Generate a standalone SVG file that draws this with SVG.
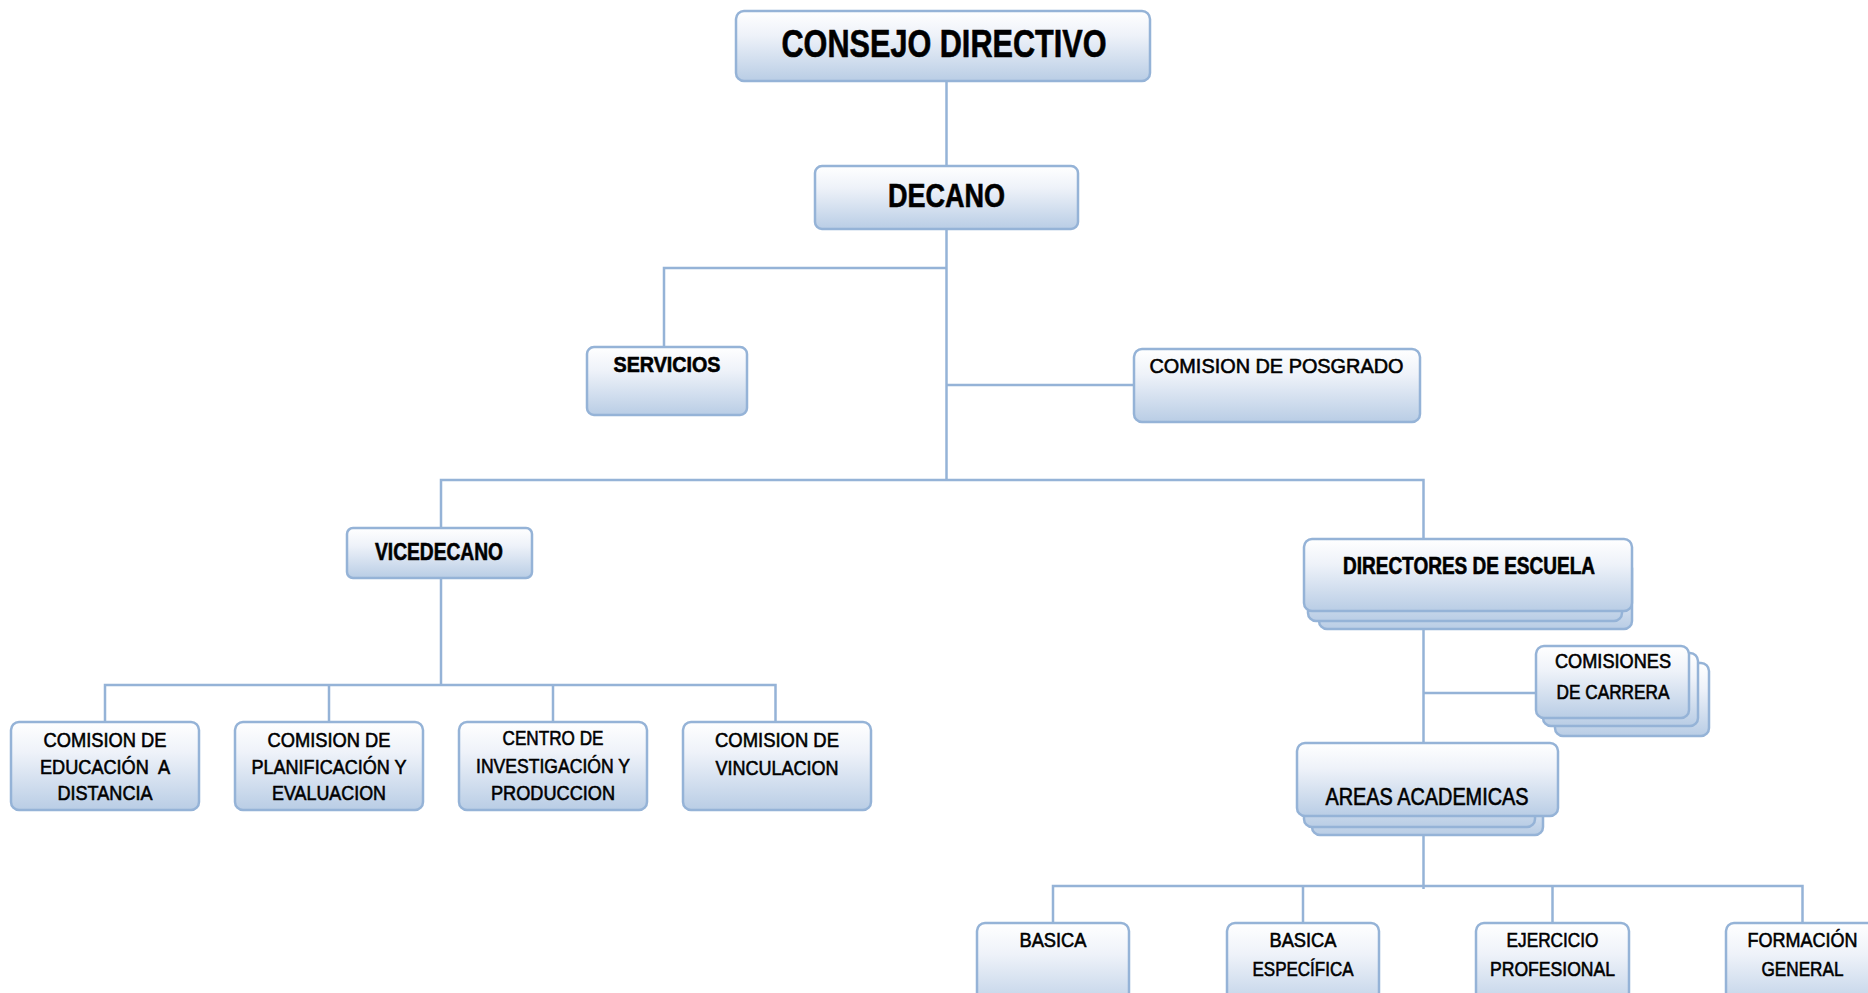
<svg xmlns="http://www.w3.org/2000/svg" width="1868" height="993" viewBox="0 0 1868 993">
<defs>
<linearGradient id="g" x1="0" y1="0" x2="0" y2="1">
<stop offset="0" stop-color="#ffffff"/>
<stop offset="0.35" stop-color="#eef2f9"/>
<stop offset="1" stop-color="#b9cde5"/>
</linearGradient>
</defs>
<style>
.b{fill:url(#g);stroke:#95b3d7;stroke-width:2.5}
.c{fill:none;stroke:#95b3d7;stroke-width:2.5}
text{font-family:"Liberation Sans",Arial,sans-serif;fill:#000;text-anchor:middle}
.bd{font-weight:bold;stroke:#000;stroke-width:0.6}
.rg{font-weight:normal;stroke:#000;stroke-width:0.6}
</style>
<g id="connectors" class="c">
<path d="M946.5 81V166"/>
<path d="M946.5 229V480"/>
<path d="M946.5 268H664V347"/>
<path d="M946.5 385H1134"/>
<path d="M441 528V480H1423.5V539"/>
<path d="M441 578V685"/>
<path d="M105 722V685H775.5V722"/>
<path d="M329 685V722"/>
<path d="M553 685V722"/>
<path d="M1423.5 629V743"/>
<path d="M1423.5 693H1536"/>
<path d="M1423.5 835V889"/>
<path d="M1053 923V886H1802.5V923"/>
<path d="M1303 886V923"/>
<path d="M1552.5 886V923"/>
</g>
<g id="consejo">
<rect class="b" x="736" y="11" width="414" height="70" rx="8"/>
<text class="bd" x="944" y="57" font-size="38" textLength="325" lengthAdjust="spacingAndGlyphs">CONSEJO DIRECTIVO</text>
</g>
<g id="decano">
<rect class="b" x="815" y="166" width="263" height="63" rx="7"/>
<text class="bd" x="946.5" y="207" font-size="33" textLength="117" lengthAdjust="spacingAndGlyphs">DECANO</text>
</g>
<g id="servicios">
<rect class="b" x="587" y="347" width="160" height="68" rx="7"/>
<text class="bd" x="667" y="372" font-size="22" textLength="107" lengthAdjust="spacingAndGlyphs">SERVICIOS</text>
</g>
<g id="posgrado">
<rect class="b" x="1134" y="349" width="286" height="73" rx="8"/>
<text class="rg" x="1276.5" y="373" font-size="21" textLength="254" lengthAdjust="spacingAndGlyphs">COMISION DE POSGRADO</text>
</g>
<g id="vicedecano">
<rect class="b" x="347" y="528" width="185" height="50" rx="6"/>
<text class="bd" x="439" y="560" font-size="24" textLength="128" lengthAdjust="spacingAndGlyphs">VICEDECANO</text>
</g>
<g id="educacion">
<rect class="b" x="11" y="722" width="188" height="88" rx="8"/>
<text class="rg" x="105" y="747" font-size="21" textLength="123" lengthAdjust="spacingAndGlyphs">COMISION DE</text>
<text class="rg" x="105" y="774" font-size="21" textLength="130" lengthAdjust="spacingAndGlyphs" xml:space="preserve">EDUCACIÓN  A</text>
<text class="rg" x="105" y="800" font-size="21" textLength="95" lengthAdjust="spacingAndGlyphs">DISTANCIA</text>
</g>
<g id="planificacion">
<rect class="b" x="235" y="722" width="188" height="88" rx="8"/>
<text class="rg" x="329" y="747" font-size="21" textLength="123" lengthAdjust="spacingAndGlyphs">COMISION DE</text>
<text class="rg" x="329" y="774" font-size="21" textLength="155" lengthAdjust="spacingAndGlyphs">PLANIFICACIÓN Y</text>
<text class="rg" x="329" y="800" font-size="21" textLength="114" lengthAdjust="spacingAndGlyphs">EVALUACION</text>
</g>
<g id="investigacion">
<rect class="b" x="459" y="722" width="188" height="88" rx="8"/>
<text class="rg" x="553" y="745" font-size="21" textLength="101" lengthAdjust="spacingAndGlyphs">CENTRO DE</text>
<text class="rg" x="553" y="773" font-size="21" textLength="154" lengthAdjust="spacingAndGlyphs">INVESTIGACIÓN Y</text>
<text class="rg" x="553" y="800" font-size="21" textLength="124" lengthAdjust="spacingAndGlyphs">PRODUCCION</text>
</g>
<g id="vinculacion">
<rect class="b" x="683" y="722" width="188" height="88" rx="8"/>
<text class="rg" x="777" y="747" font-size="21" textLength="124" lengthAdjust="spacingAndGlyphs">COMISION DE</text>
<text class="rg" x="777" y="775" font-size="21" textLength="123" lengthAdjust="spacingAndGlyphs">VINCULACION</text>
</g>
<g id="directores">
<rect class="b" x="1319" y="560" width="313" height="69" rx="8"/>
<rect class="b" x="1308" y="552" width="314" height="69" rx="8"/>
<rect class="b" x="1304" y="539" width="328" height="72" rx="8"/>
<text class="bd" x="1469" y="574" font-size="23" textLength="252" lengthAdjust="spacingAndGlyphs">DIRECTORES DE ESCUELA</text>
</g>
<g id="comisiones-carrera">
<rect class="b" x="1555" y="663" width="154" height="73" rx="8"/>
<rect class="b" x="1543" y="653" width="155" height="73" rx="8"/>
<rect class="b" x="1536" y="646" width="153" height="72" rx="8"/>
<text class="rg" x="1613" y="668" font-size="20" textLength="116" lengthAdjust="spacingAndGlyphs">COMISIONES</text>
<text class="rg" x="1613" y="699" font-size="20" textLength="113" lengthAdjust="spacingAndGlyphs">DE CARRERA</text>
</g>
<g id="areas">
<rect class="b" x="1312" y="763" width="231" height="72" rx="8"/>
<rect class="b" x="1304" y="755" width="231" height="72" rx="8"/>
<rect class="b" x="1297" y="743" width="261" height="73" rx="8"/>
<text class="rg" x="1427" y="805" font-size="23" textLength="203" lengthAdjust="spacingAndGlyphs">AREAS ACADEMICAS</text>
</g>
<g id="basica">
<rect class="b" x="977" y="923" width="152" height="90" rx="8"/>
<text class="rg" x="1053" y="947" font-size="21" textLength="67" lengthAdjust="spacingAndGlyphs">BASICA</text>
</g>
<g id="basica-especifica">
<rect class="b" x="1227" y="923" width="152" height="90" rx="8"/>
<text class="rg" x="1303" y="947" font-size="21" textLength="67" lengthAdjust="spacingAndGlyphs">BASICA</text>
<text class="rg" x="1303" y="976" font-size="21" textLength="101" lengthAdjust="spacingAndGlyphs">ESPECÍFICA</text>
</g>
<g id="ejercicio">
<rect class="b" x="1476" y="923" width="153" height="90" rx="8"/>
<text class="rg" x="1552.5" y="947" font-size="21" textLength="92" lengthAdjust="spacingAndGlyphs">EJERCICIO</text>
<text class="rg" x="1552.5" y="976" font-size="21" textLength="125" lengthAdjust="spacingAndGlyphs">PROFESIONAL</text>
</g>
<g id="formacion">
<rect class="b" x="1726" y="923" width="153" height="90" rx="8"/>
<text class="rg" x="1802.5" y="947" font-size="21" textLength="110" lengthAdjust="spacingAndGlyphs">FORMACIÓN</text>
<text class="rg" x="1802.5" y="976" font-size="21" textLength="82" lengthAdjust="spacingAndGlyphs">GENERAL</text>
</g>
</svg>
